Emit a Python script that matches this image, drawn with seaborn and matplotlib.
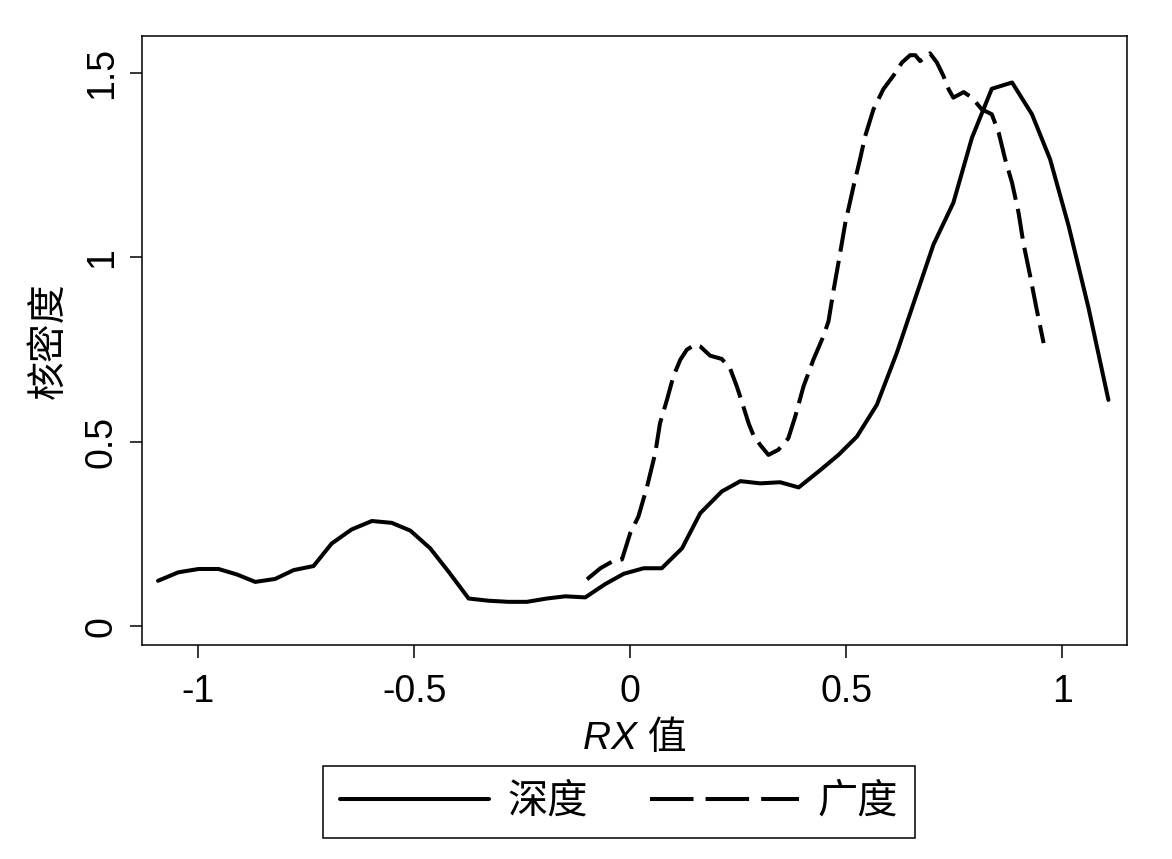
import numpy as np
import pandas as pd
import matplotlib
matplotlib.use("Agg")
import matplotlib.pyplot as plt
import seaborn as sns

# ---- data ----
series_names = ["深度", "广度"]

depth_x = [-1.093, -1.046, -0.999, -0.953, -0.910, -0.868, -0.822, -0.779, -0.733, -0.691,
           -0.645, -0.598, -0.552, -0.509, -0.463, -0.420, -0.374, -0.328, -0.282, -0.239,
           -0.193, -0.150, -0.104, -0.058, -0.015, 0.031, 0.073, 0.120, 0.162, 0.212,
           0.255, 0.301, 0.347, 0.390, 0.436, 0.482, 0.525, 0.571, 0.617, 0.660,
           0.702, 0.748, 0.791, 0.837, 0.884, 0.930, 0.972, 1.015, 1.061, 1.107]
depth_y = [0.123, 0.146, 0.155, 0.155, 0.140, 0.120, 0.128, 0.152, 0.163, 0.224,
           0.262, 0.285, 0.280, 0.259, 0.211, 0.147, 0.075, 0.069, 0.066, 0.066,
           0.075, 0.081, 0.078, 0.114, 0.142, 0.157, 0.157, 0.211, 0.306, 0.365,
           0.393, 0.387, 0.390, 0.376, 0.419, 0.464, 0.514, 0.600, 0.740, 0.889,
           1.034, 1.147, 1.323, 1.456, 1.473, 1.387, 1.265, 1.084, 0.862, 0.613]

breadth_x = [-0.100, -0.069, -0.042, -0.019, 0.000, 0.019, 0.039, 0.058, 0.069, 0.085,
             0.100, 0.116, 0.131, 0.150, 0.162, 0.185, 0.212, 0.231, 0.247, 0.262,
             0.274, 0.285, 0.301, 0.320, 0.343, 0.366, 0.382, 0.401, 0.424, 0.447,
             0.459, 0.471, 0.486, 0.498, 0.517, 0.532, 0.544, 0.563, 0.586, 0.609,
             0.629, 0.648, 0.660, 0.671, 0.694, 0.710, 0.725, 0.737, 0.748, 0.772,
             0.791, 0.814, 0.837, 0.853, 0.868, 0.884, 0.899, 0.910, 0.926, 0.941, 0.957]
breadth_y = [0.127, 0.157, 0.175, 0.181, 0.252, 0.297, 0.378, 0.469, 0.550, 0.613,
             0.677, 0.722, 0.749, 0.763, 0.758, 0.733, 0.724, 0.699, 0.649, 0.595,
             0.550, 0.518, 0.491, 0.464, 0.478, 0.509, 0.568, 0.649, 0.722, 0.785,
             0.826, 0.912, 1.011, 1.093, 1.192, 1.265, 1.328, 1.400, 1.455, 1.491,
             1.527, 1.547, 1.547, 1.531, 1.552, 1.527, 1.491, 1.455, 1.432, 1.447,
             1.432, 1.400, 1.387, 1.337, 1.265, 1.201, 1.120, 1.039, 0.948, 0.858, 0.767]

x_ticks = [-1, -0.5, 0, 0.5, 1]
x_tick_labels = ["-1", "-0.5", "0", "0.5", "1"]
y_ticks = [0, 0.5, 1, 1.5]
y_tick_labels = ["0", "0.5", "1", "1.5"]
x_label = "RX 值"
y_label = "核密度"

df = pd.concat([
    pd.DataFrame({"x": depth_x, "y": depth_y, "类型": series_names[0]}),
    pd.DataFrame({"x": breadth_x, "y": breadth_y, "类型": series_names[1]}),
], ignore_index=True)

# ---- style ----
sns.set_style("ticks")
plt.rcParams["font.family"] = ["Liberation Sans", "Noto Sans CJK SC", "DejaVu Sans"]
plt.rcParams["text.color"] = "black"
plt.rcParams["axes.labelcolor"] = "black"
plt.rcParams["xtick.color"] = "black"
plt.rcParams["ytick.color"] = "black"

fig = plt.figure(figsize=(11.72, 8.59), dpi=100)
fig.patch.set_facecolor("white")
ax = fig.add_axes([0.1212, 0.2491, 0.8404, 0.7090])

sns.lineplot(data=df, x="x", y="y", style="类型", style_order=series_names,
             dashes={series_names[0]: "", series_names[1]: (7.5, 2.3)},
             color="black", linewidth=2.9, estimator=None, sort=False,
             legend=False, ax=ax)

ax.set_xlim(-1.130, 1.150)
ax.set_ylim(-0.051, 1.599)
ax.set_xticks(x_ticks)
ax.set_xticklabels(x_tick_labels)
ax.set_yticks(y_ticks)
ax.set_yticklabels(y_tick_labels, rotation=90, va="center")
ax.tick_params(axis="both", which="major", direction="out", length=9, width=1.1,
               color="black", labelsize=27, labelcolor="black")
ax.tick_params(axis="x", pad=12)
ax.tick_params(axis="y", pad=7)
for s in ax.spines.values():
    s.set_visible(True)
    s.set_color("black")
    s.set_linewidth(1.1)
ax.set_facecolor("white")
ax.grid(False)

ax.set_xlabel(x_label, fontsize=28, labelpad=8, color="black", style="italic")
ax.set_ylabel(y_label, fontsize=28, labelpad=12, color="black")

handles = ax.get_lines()[:2]
leg = ax.legend(handles, series_names, ncol=2, loc="center",
                bbox_to_anchor=(0.528, 0.0663), bbox_transform=fig.transFigure,
                frameon=True, fancybox=False, framealpha=1, edgecolor="black",
                fontsize=29, handlelength=3.7, handletextpad=0.45,
                columnspacing=1.55, borderpad=0.42, borderaxespad=0)
leg.get_frame().set_linewidth(1.1)
for t in leg.get_texts():
    t.set_color("black")
leg.get_lines()[1].set_dashes((10.8, 3.0))

fig.savefig("out.png", dpi=100, facecolor="white")
